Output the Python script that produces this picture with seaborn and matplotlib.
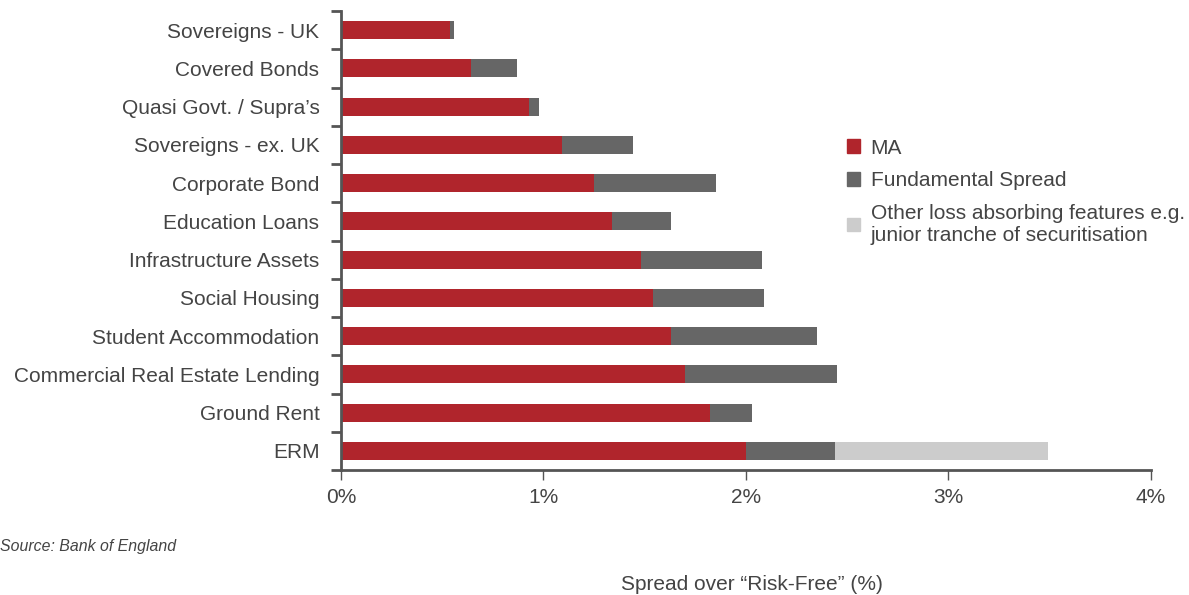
import numpy as np
import pandas as pd
import matplotlib
matplotlib.use("Agg")
import matplotlib.pyplot as plt
from matplotlib.patches import Patch
import seaborn as sns

# spread decomposition by asset class (values in %)
categories = ["Sovereigns - UK", "Covered Bonds", "Quasi Govt. / Supra\u2019s",
              "Sovereigns - ex. UK", "Corporate Bond", "Education Loans",
              "Infrastructure Assets", "Social Housing", "Student Accommodation",
              "Commercial Real Estate Lending", "Ground Rent", "ERM"]
ma = [0.54, 0.64, 0.93, 1.09, 1.25, 1.34, 1.48, 1.54, 1.63, 1.70, 1.82, 2.00]
fundamental = [0.02, 0.23, 0.05, 0.35, 0.60, 0.29, 0.60, 0.55, 0.72, 0.75, 0.21, 0.44]
other_loss = [0, 0, 0, 0, 0, 0, 0, 0, 0, 0, 0, 1.05]

xticks = [0, 1, 2, 3, 4]
xticklabels = ["0%", "1%", "2%", "3%", "4%"]

red = "#B0252C"
dark = "#666666"
light = "#CCCCCC"
txt = "#444444"
axcol = "#555555"

df = pd.DataFrame({"cat": categories, "ma": ma, "fs": fundamental, "ol": other_loss})
df["t_fs"] = df["ma"] + df["fs"]
df["t_ol"] = df["t_fs"] + df["ol"]

sns.set_style("white")
plt.rcParams["font.family"] = ["Liberation Sans", "DejaVu Sans"]

fig = plt.figure(figsize=(11.89, 5.95), dpi=100)
ax = fig.add_axes([341 / 1189, 1 - 470 / 595, (1151 - 341) / 1189, (470 - 11) / 595])

# stacked bars drawn as overlapping cumulative totals
for col, c in [("t_ol", light), ("t_fs", dark), ("ma", red)]:
    sns.barplot(data=df, x=col, y="cat", color=c, width=0.47, saturation=1,
                linewidth=0, ax=ax)

ax.set_xlim(0, 4)
ax.set_ylim(len(categories) - 0.5, -0.5)
ax.set_xticks(xticks)
ax.set_xticklabels(xticklabels, fontsize=15, color=txt)
ax.set_yticks(range(len(categories)))
ax.set_yticklabels(categories, fontsize=15, color=txt)
ax.set_yticks(np.arange(-0.5, len(categories), 1), minor=True)
ax.tick_params(axis="y", which="major", left=False, pad=12)
ax.tick_params(axis="y", which="minor", left=True, length=7, width=2, color=axcol)
ax.tick_params(axis="x", which="major", bottom=True, length=7, width=1, color=axcol, pad=6)
ax.set_xlabel("")
ax.set_ylabel("")

for s in ["top", "right"]:
    ax.spines[s].set_visible(False)
for s in ["left", "bottom"]:
    ax.spines[s].set_color(axcol)
    ax.spines[s].set_linewidth(2)

handles = [Patch(color=red, label="MA"),
           Patch(color=dark, label="Fundamental Spread"),
           Patch(color=light, label="Other loss absorbing features e.g.\njunior tranche of securitisation")]
fig.legend(handles=handles, loc="upper left", bbox_to_anchor=(828 / 1189, 1 - 120 / 595),
           frameon=False, fontsize=15, handlelength=0.65, handleheight=0.65,
           handletextpad=0.5, labelspacing=0.65, labelcolor=txt)

fig.text(0, 1 - 547 / 595, "Source: Bank of England", fontsize=11.4, style="italic",
         color=txt, va="center", ha="left")
fig.text(752 / 1189, 1 - 584 / 595, "Spread over \u201cRisk-Free\u201d (%)", fontsize=15,
         color=txt, va="center", ha="center")

fig.savefig("out.png", dpi=100)
